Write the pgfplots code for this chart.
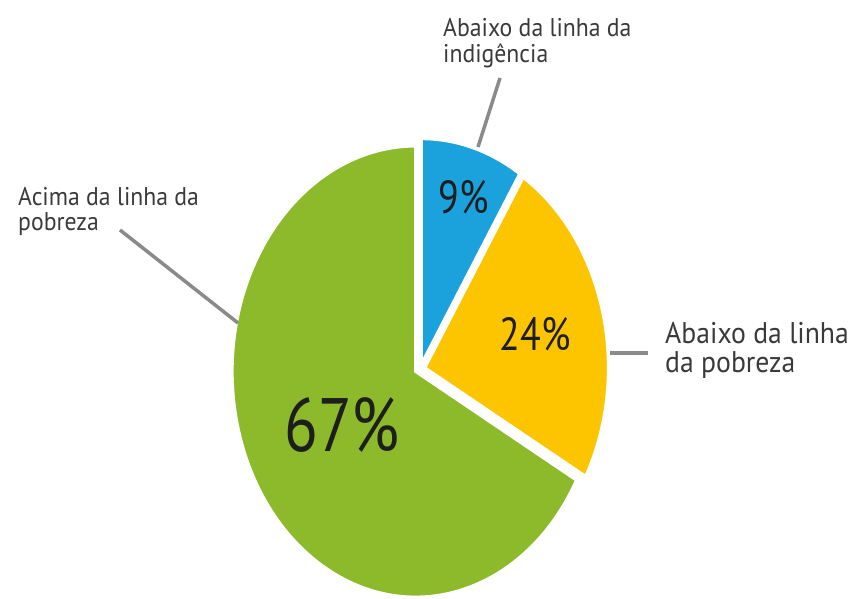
\documentclass[border=0pt]{standalone}
\usepackage{pgfplots}
\pgfplotsset{compat=1.18}
\usepackage{fontspec}
\setmainfont{PT Sans}
\usepackage{graphicx}

\definecolor{pblue}{HTML}{1BA1DB}
\definecolor{pyellow}{HTML}{FDC500}
\definecolor{pgreen}{HTML}{8DBA2B}
\definecolor{ptext}{HTML}{3A3A3A}
\definecolor{pnum}{HTML}{1E1E1E}
\definecolor{pline}{HTML}{8A8A8A}

\newcommand\st[1]{\scalebox{1}[1.22]{#1}}
\newcommand\lt[1]{\scalebox{1.13}[1.22]{#1}}

% slice values (percent)
\def\va{9}
\def\vb{24}
\def\vc{67}
\pgfmathsetmacro\aA{90}
\pgfmathsetmacro\aB{\aA-\va*3.6}
\pgfmathsetmacro\aC{\aB-\vb*3.6}
\pgfmathsetmacro\aD{\aC-\vc*3.6}
\pgfmathsetmacro\mA{(\aA+\aB)/2}
\pgfmathsetmacro\mB{(\aB+\aC)/2}
\pgfmathsetmacro\mC{(\aC+\aD)/2}
\def\rx{183.5pt}
\def\ry{225.5pt}

\begin{document}
\begin{tikzpicture}
\begin{axis}[scale only axis, width=856pt, height=599pt,
  xmin=0, xmax=856, ymin=0, ymax=599, y dir=reverse,
  hide axis, clip=false]

\fill[pblue, draw=white, line width=3pt]
  (axis cs:{420+5*cos(\mA)},{369-5*sin(\mA)}) -- ++(\aA:\rx\space and \ry)
  arc[start angle=\aA, end angle=\aB, x radius=\rx, y radius=\ry] -- cycle;
\fill[pyellow, draw=white, line width=3pt]
  (axis cs:{420+5*cos(\mB)},{369-5*sin(\mB)}) -- ++(\aB:\rx\space and \ry)
  arc[start angle=\aB, end angle=\aC, x radius=\rx, y radius=\ry] -- cycle;
\fill[pgreen, draw=white, line width=3pt]
  (axis cs:{420+5*cos(\mC)},{369-5*sin(\mC)}) -- ++(\aC:\rx\space and \ry)
  arc[start angle=\aC, end angle=\aD, x radius=\rx, y radius=\ry] -- cycle;

% leader lines
\draw[pline, line width=3.5pt] (axis cs:500,78) -- (axis cs:478,147);
\draw[pline, line width=3.5pt] (axis cs:120,230) -- (axis cs:238,323);
\draw[pline, line width=3.5pt] (axis cs:610,353) -- (axis cs:648,353);

% labels
\node[anchor=base west, inner sep=0pt, text=ptext, font=\fontsize{21}{24}\selectfont] at (axis cs:443,37) {\lt{Abaixo da linha da}};
\node[anchor=base west, inner sep=0pt, text=ptext, font=\fontsize{21}{24}\selectfont] at (axis cs:443,63) {\lt{indigência}};
\node[anchor=base west, inner sep=0pt, text=ptext, font=\fontsize{21}{24}\selectfont] at (axis cs:18,205) {\lt{Acima da linha da}};
\node[anchor=base west, inner sep=0pt, text=ptext, font=\fontsize{21}{24}\selectfont] at (axis cs:18,230) {\lt{pobreza}};
\node[anchor=base west, inner sep=0pt, text=ptext, font=\fontsize{24.5}{26}\selectfont] at (axis cs:665,343) {\lt{Abaixo da linha}};
\node[anchor=base west, inner sep=0pt, text=ptext, font=\fontsize{24.5}{26}\selectfont] at (axis cs:665,372) {\lt{da pobreza}};

% percentages
\node[anchor=center, inner sep=0pt, text=pnum, font=\fontsize{38}{40}\selectfont] at (axis cs:464,197) {\st{9\%}};
\node[anchor=center, inner sep=0pt, text=pnum, font=\fontsize{38}{40}\selectfont] at (axis cs:535,334) {\st{24\%}};
\node[anchor=center, inner sep=0pt, text=pnum, font=\fontsize{62}{64}\selectfont] at (axis cs:342,425) {\st{67\%}};
\end{axis}
\pgfresetboundingbox
\path (current axis.south west) rectangle (current axis.north east);
\end{tikzpicture}
\end{document}
